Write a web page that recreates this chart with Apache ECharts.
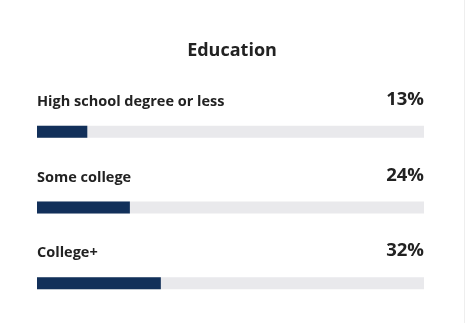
<!DOCTYPE html>
<html>
<head>
<meta charset="utf-8">
<script src="https://cdn.jsdelivr.net/npm/echarts@6/dist/echarts.min.js"></script>
<style>
  html, body { margin: 0; padding: 0; background: #fff; }
  #chart { width: 464px; height: 323px; border-right: 1px solid #eeeeee; }
</style>
</head>
<body>
<div id="chart"></div>
<script>
// Share of respondents by education level (percent)
const categories = ['High school degree or less', 'Some college', 'College+'];
const shares = [13, 24, 32];
const scaleMax = 100;

const FONT = '"Open Sans", "Liberation Sans", sans-serif';
const TEXT = '#222222';

const chart = echarts.init(document.getElementById('chart'), null, { renderer: 'canvas' });

chart.setOption({
  animation: false,
  title: {
    text: 'Education',
    left: 'center',
    top: 37,
    textStyle: { fontFamily: FONT, fontWeight: 700, fontSize: 18, color: TEXT }
  },
  grid: { left: 37, right: 40, top: 94, bottom: 2 },
  xAxis: { type: 'value', min: 0, max: scaleMax, show: false },
  yAxis: {
    type: 'category', data: categories, inverse: true,
    axisLine: { show: false }, axisTick: { show: false }, axisLabel: { show: false }, splitLine: { show: false }
  },
  series: [
    {
      // light track spanning the full scale, carries the category name above it
      type: 'bar', silent: true, barWidth: 12, z: 1,
      data: categories.map(() => scaleMax),
      itemStyle: { color: '#e9e9ec' },
      label: {
        show: true, position: [0, -24], align: 'left', verticalAlign: 'middle',
        formatter: p => categories[p.dataIndex],
        fontFamily: FONT, fontWeight: 700, fontSize: 14.5, color: TEXT
      }
    },
    {
      // filled share
      type: 'bar', silent: true, barWidth: 12, barGap: '-100%', z: 2,
      data: shares,
      itemStyle: { color: '#12305a' }
    },
    {
      // transparent full-width carrier for the right-aligned percentage
      type: 'bar', silent: true, barWidth: 12, barGap: '-100%', z: 3,
      data: categories.map(() => scaleMax),
      itemStyle: { color: 'rgba(0,0,0,0)' },
      label: {
        show: true, position: ['100%', -26], align: 'right', verticalAlign: 'middle',
        formatter: p => shares[p.dataIndex] + '%',
        fontFamily: FONT, fontWeight: 700, fontSize: 18.5, color: TEXT
      }
    }
  ]
});
</script>
</body>
</html>
